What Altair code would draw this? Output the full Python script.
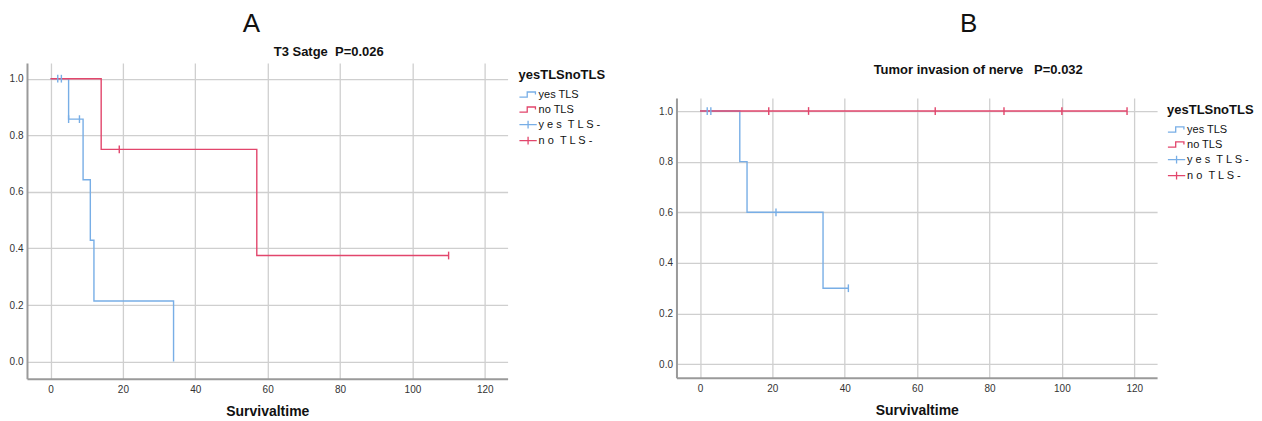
import altair as alt
import pandas as pd

# ---------------- data ----------------
SERIES = ["yes TLS", "no TLS", "y e s\u00a0\u00a0T L S -", "n o\u00a0\u00a0T L S -"]
COLORS = ["#78aee6", "#e2466c", "#78aee6", "#e2466c"]

# Panel A : T3 stage
a_yes_time = [0, 5, 9, 11, 12, 34]
a_yes_surv = [1.0, 0.857, 0.643, 0.429, 0.214, 0.0]
a_yes_cens_time = [2, 3, 5, 8]
a_yes_cens_surv = [1.0, 1.0, 0.857, 0.857]
a_no_time = [0, 14, 57, 110]
a_no_surv = [1.0, 0.75, 0.375, 0.375]
a_no_cens_time = [19, 110]
a_no_cens_surv = [0.75, 0.375]

# Panel B : tumor invasion of nerve
b_yes_time = [0, 11, 13, 34, 41]
b_yes_surv = [1.0, 0.8, 0.6, 0.3, 0.3]
b_yes_cens_time = [2, 3, 21, 41]
b_yes_cens_surv = [1.0, 1.0, 0.6, 0.3]
b_no_time = [0, 118]
b_no_surv = [1.0, 1.0]
b_no_cens_time = [19, 30, 65, 84, 100, 118]
b_no_cens_surv = [1.0, 1.0, 1.0, 1.0, 1.0, 1.0]

X_TICKS = [0, 20, 40, 60, 80, 100, 120]
Y_TICKS = [0.0, 0.2, 0.4, 0.6, 0.8, 1.0]

STEP_PATH = "M-1,0.3H-0.1V-0.3H0.85V0"
CROSS_PATH = "M-1,0H1M0,-0.45V0.45"
CENSOR_PATH = "M0,-1V1"

FONT = "Liberation Sans"
W = 481


def curve_df(times, survs, name):
    return pd.DataFrame({"time": times, "surv": survs, "series": name})


def header(letter, subtitle, height, sub_y, baseline, dx):
    return alt.Chart(pd.DataFrame({"t": [subtitle]})).mark_text(
        font=FONT, fontSize=13, fontWeight="bold", color="#111", align="center",
        baseline=baseline).encode(x=alt.value(302), y=alt.value(sub_y), text="t:N").properties(
        width=W, height=height,
        title=alt.Title(letter, fontSize=26, fontWeight="normal", font=FONT,
                        anchor="middle", dx=dx, offset=-3, color="#111"),
    )


def panel(yes_t, yes_s, no_t, no_s, yc_t, yc_s, nc_t, nc_s, height, ydom, leg_x):
    color = alt.Color(
        "series:N",
        scale=alt.Scale(domain=SERIES, range=COLORS),
        legend=alt.Legend(
            title="yesTLSnoTLS", orient="none", legendX=leg_x, legendY=6,
            titleFontSize=13, titleFontWeight="bold", titleFont=FONT,
            titleColor="#111", labelFont=FONT, labelFontSize=11,
            labelColor="#111", symbolSize=300, symbolStrokeWidth=1.3,
            symbolFillColor="transparent", symbolOpacity=1, rowPadding=-5,
            labelOffset=1, padding=0, titlePadding=3,
        ),
    )
    x = alt.X("time:Q", scale=alt.Scale(domain=[-6.5, 126.3], nice=False, zero=False),
              axis=alt.Axis(values=X_TICKS, title="Survivaltime"))
    y = alt.Y("surv:Q", scale=alt.Scale(domain=ydom, nice=False, zero=False),
              axis=alt.Axis(values=Y_TICKS, format=".1f", title=None))

    yes_df = curve_df(yes_t, yes_s, SERIES[0])
    no_df = curve_df(no_t, no_s, SERIES[1])
    cens_df = pd.concat([curve_df(yc_t, yc_s, SERIES[2]), curve_df(nc_t, nc_s, SERIES[3])])
    leg_df = pd.DataFrame({"series": SERIES})

    yes_line = alt.Chart(yes_df).mark_line(interpolate="step-after", strokeWidth=1.4).encode(
        x=x, y=y, color=color)
    no_line = alt.Chart(no_df).mark_line(interpolate="step-after", strokeWidth=1.4).encode(
        x=x, y=y, color=color)
    cens = alt.Chart(cens_df).mark_point(shape=CENSOR_PATH, size=60, strokeWidth=1.4,
                                         filled=False, opacity=1).encode(
        x=x, y=y, color=color)
    leg = alt.Chart(leg_df).mark_point(opacity=0, filled=False, size=300).encode(
        x=alt.value(0), y=alt.value(0), color=color,
        shape=alt.Shape("series:N",
                        scale=alt.Scale(domain=SERIES,
                                        range=[STEP_PATH, STEP_PATH, CROSS_PATH, CROSS_PATH]),
                        legend=alt.Legend(title="yesTLSnoTLS")))

    return alt.layer(yes_line, no_line, cens, leg).properties(width=W, height=height)


pa = panel(a_yes_time, a_yes_surv, a_no_time, a_no_surv,
           a_yes_cens_time, a_yes_cens_surv, a_no_cens_time, a_no_cens_surv,
           316, [-0.061, 1.055], 492)
pb = panel(b_yes_time, b_yes_surv, b_no_time, b_no_surv, b_yes_cens_time, b_yes_cens_surv,
           b_no_cens_time, b_no_cens_surv, 280, [-0.054, 1.051], 491)

ha = header("A", "T3 Satge\u00a0\u00a0P=0.026", 25, 25, "bottom", -16)
hb = header("B", "Tumor invasion of nerve\u00a0\u00a0\u00a0P=0.032", 60, 36, "middle", 52)

col_a = alt.vconcat(ha, pa, spacing=0).resolve_scale(color="independent", shape="independent")
col_b = alt.vconcat(hb, pb, spacing=0).resolve_scale(color="independent", shape="independent")

chart = alt.hconcat(col_a, col_b, spacing=53).resolve_scale(
    color="independent", shape="independent").properties(
    padding={"left": 1, "top": 3, "right": 0, "bottom": 0}
).configure_view(stroke=None).configure_axis(
    grid=True, gridColor="#cfcfcf", gridWidth=1.3, domainColor="#9a9a9a", domainWidth=2,
    ticks=False, labelFont=FONT, labelFontSize=10, labelColor="#333",
    titleFont=FONT, titleFontSize=14, titleFontWeight="bold", titleColor="#111",
).configure_axisX(labelPadding=6, titlePadding=10).configure_axisY(labelPadding=4)

chart.save("out.html", embed_options={"renderer": "svg", "actions": False})
